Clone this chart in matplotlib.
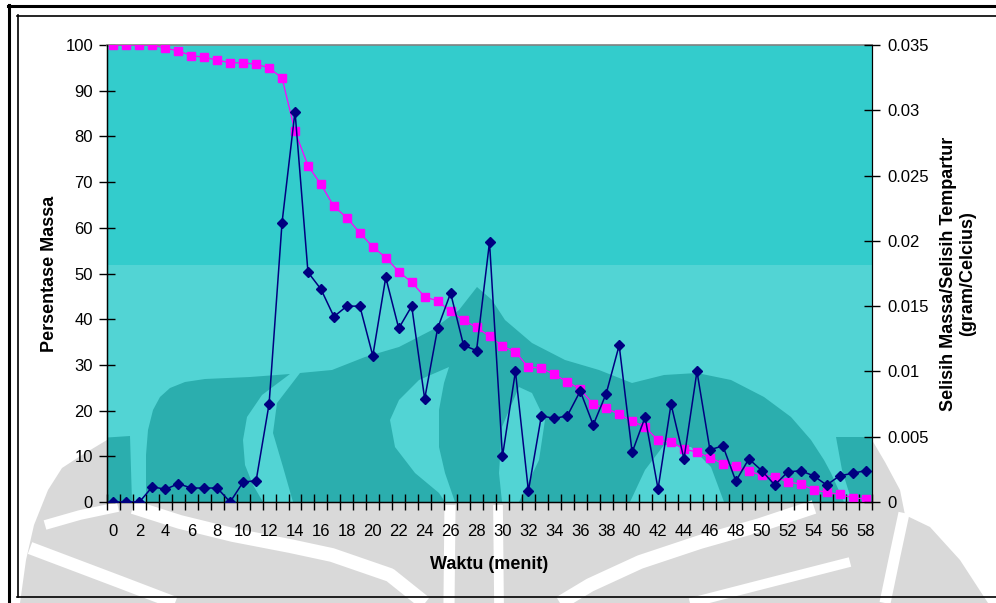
import matplotlib
matplotlib.use("Agg")
import matplotlib.pyplot as plt
from matplotlib.patches import Polygon, Rectangle
from matplotlib.lines import Line2D

plt.rcParams['font.family'] = ['Liberation Sans', 'DejaVu Sans']

# data
waktu = list(range(59))
massa = [100, 100, 100, 100, 99.3, 98.7, 97.7, 97.3, 96.7, 96.1,
         96.1, 95.8, 95.0, 92.8, 81.1, 73.6, 69.5, 64.7, 62.2, 58.9,
         55.8, 53.5, 50.4, 48.1, 44.9, 44.0, 41.7, 39.8, 38.2, 36.3,
         34.1, 32.8, 29.5, 29.3, 27.9, 26.3, 24.7, 21.4, 20.5, 19.2,
         17.7, 16.4, 13.5, 13.1, 11.6, 10.9, 9.7, 8.4, 7.8, 6.8,
         5.8, 5.5, 4.4, 3.9, 2.7, 2.1, 1.7, 0.9, 0.7]
selisih = [0, 0, 0, 0.00117, 0.00097, 0.0014, 0.00107, 0.00107, 0.00107, 0,
           0.00153, 0.00163, 0.0075, 0.0214, 0.0299, 0.0176, 0.0163, 0.0142, 0.015, 0.015,
           0.0112, 0.0172, 0.0133, 0.015, 0.0079, 0.0133, 0.016, 0.012, 0.0116, 0.0199,
           0.0035, 0.01, 0.00085, 0.0066, 0.0064, 0.0066, 0.0085, 0.0059, 0.0083, 0.012,
           0.0038, 0.0065, 0.001, 0.0075, 0.0033, 0.01, 0.004, 0.0043, 0.0016, 0.0033,
           0.0024, 0.0013, 0.0023, 0.0024, 0.002, 0.0013, 0.002, 0.0022, 0.0024]
left_ticks = list(range(0, 101, 10))
right_ticks = [0, 0.005, 0.01, 0.015, 0.02, 0.025, 0.03, 0.035]
right_labels = ['0', '0.005', '0.01', '0.015', '0.02', '0.025', '0.03', '0.035']

W, H = 996, 603
L, R, T, B = 107, 872, 45, 502

fig = plt.figure(figsize=(W / 100, H / 100), dpi=100)

# background layer in pixel coordinates (y down)
bg = fig.add_axes([0, 0, 1, 1])
bg.set_xlim(0, W)
bg.set_ylim(H, 0)
bg.axis('off')
bg.set_zorder(0)

GRAY = '#d9d9d9'
# watermark outside the plot
outer = [(20, 603), (26, 560), (34, 525), (48, 490), (62, 468), (82, 455), (107, 440),
         (872, 440), (885, 462), (900, 490), (905, 515), (930, 527),
         (960, 560), (988, 603)]
bg.add_patch(Polygon(outer, closed=True, fc=GRAY, ec='none'))
stripes = [
    ([(133, 507), (180, 522), (233, 535), (290, 546), (332, 555), (390, 575), (425, 603)], 10),
    ([(30, 548), (75, 565), (120, 582), (175, 603)], 9),
    ([(450, 505), (449, 603)], 8),
    ([(498, 505), (499, 603)], 7),
    ([(814, 507), (760, 525), (700, 542), (640, 562), (590, 585), (560, 603)], 10),
    ([(904, 513), (895, 555), (885, 603)], 8),
    ([(118, 507), (80, 515), (45, 525)], 7),
    ([(690, 603), (760, 585), (850, 562)], 7),
]
for pts, width in stripes:
    xs, ys = zip(*pts)
    bg.add_line(Line2D(xs, ys, color='white', lw=width, solid_capstyle='butt',
                       solid_joinstyle='round'))

# plot area fill
clip = Rectangle((L, 265), R - L, B - 265, transform=bg.transData)
bg.add_patch(Rectangle((L, T), R - L, 265 - T, fc='#33cccc', ec='none'))
bg.add_patch(Rectangle((L, 265), R - L, B - 265, fc='#52d4d4', ec='none'))

DARK = '#2baeae'
LIGHT = '#52d4d4'
dark_shapes = [
    [(100, 438), (130, 436), (132, 502), (100, 502)],
    [(146, 502), (146, 455), (148, 430), (153, 410), (160, 397), (170, 388),
     (185, 382), (205, 379), (250, 377), (290, 374),
     (262, 395), (247, 417), (243, 440), (245, 465), (253, 485), (263, 502)],
    [(293, 502), (283, 467), (273, 433), (277, 403), (300, 373), (332, 370),
     (365, 357), (399, 347), (432, 330), (459, 310), (477, 287), (492, 300),
     (505, 320), (532, 343), (565, 360), (599, 370), (632, 383), (664, 375),
     (697, 373), (731, 380), (764, 397), (791, 417), (811, 440), (824, 460),
     (831, 473), (844, 502)],
    [(836, 437), (880, 437), (880, 502), (852, 502), (842, 470)],
]
light_shapes = [
    [(449, 367), (419, 380), (399, 400), (390, 420), (395, 447), (415, 473),
     (439, 493), (445, 502), (455, 502), (445, 473), (439, 447), (439, 410),
     (444, 383)],
    [(519, 387), (502, 427), (499, 473), (502, 502), (519, 502), (539, 460),
     (545, 420), (532, 393)],
    [(630, 502), (645, 470), (664, 445), (691, 447), (711, 467), (724, 502)],
]
for pts in dark_shapes:
    p = bg.add_patch(Polygon(pts, closed=True, fc=DARK, ec='none'))
    p.set_clip_path(clip)
for pts in light_shapes:
    p = bg.add_patch(Polygon(pts, closed=True, fc=LIGHT, ec='none'))
    p.set_clip_path(clip)

# frames
bg.add_line(Line2D([8, W], [6, 6], color='black', lw=2.2))
bg.add_line(Line2D([9, 9], [5, H], color='black', lw=2.2))
bg.add_line(Line2D([17, W], [15.5, 15.5], color='black', lw=1.2))
bg.add_line(Line2D([17.5, 17.5], [15, 597], color='black', lw=1.2))
bg.add_line(Line2D([17, W], [597, 597], color='black', lw=1.2))

# main chart
ax = fig.add_axes([L / W, (H - B) / H, (R - L) / W, (B - T) / H])
ax.set_zorder(1)
ax.set_facecolor('none')
ax.plot(waktu, massa, color='#ff00ff', lw=0.9, marker='s', ms=5.2,
        mec='#ff00ff', mfc='#ff00ff', zorder=3)
ax.set_xlim(-0.5, 58.5)
ax.set_ylim(0, 100)
ax.set_yticks(left_ticks)
ax.set_xticks(waktu)
ax.set_xticklabels([str(w) if w % 2 == 0 else '' for w in waktu])
ax.set_xticks([w - 0.5 for w in waktu] + [58.5], minor=True)
ax.tick_params(axis='x', which='major', length=0, pad=16, labelsize=12)
ax.tick_params(axis='x', which='minor', direction='inout', length=12, width=1)
ax.tick_params(axis='y', direction='inout', length=12, width=1, pad=4, labelsize=12)
for side in ['left', 'bottom']:
    ax.spines[side].set_color('black')
    ax.spines[side].set_linewidth(1)
ax.spines['top'].set_color('#808080')
ax.spines['top'].set_linewidth(1.2)
ax.spines['right'].set_color('black')

ax.set_ylabel('Persentase Massa', fontsize=13, fontweight='bold', labelpad=5)
ax.set_xlabel('Waktu (menit)', fontsize=13, fontweight='bold', labelpad=12)

ax2 = ax.twinx()
ax2.plot(waktu, selisih, color='#000080', lw=1.1, marker='D', ms=5.3,
         mec='#000080', mfc='#000080', zorder=3)
ax2.set_ylim(0, 0.035)
ax2.set_yticks(right_ticks)
ax2.set_yticklabels(right_labels)
ax2.tick_params(axis='y', direction='inout', length=12, width=1, pad=5, labelsize=12)
ax2.spines['right'].set_color('black')
ax2.spines['top'].set_visible(False)
ax2.set_ylabel('Selisih Massa/Selisih Tempartur\n(gram/Celcius)', fontsize=13,
               fontweight='bold', labelpad=8, linespacing=1.15)

fig.savefig('out.png', dpi=100)
